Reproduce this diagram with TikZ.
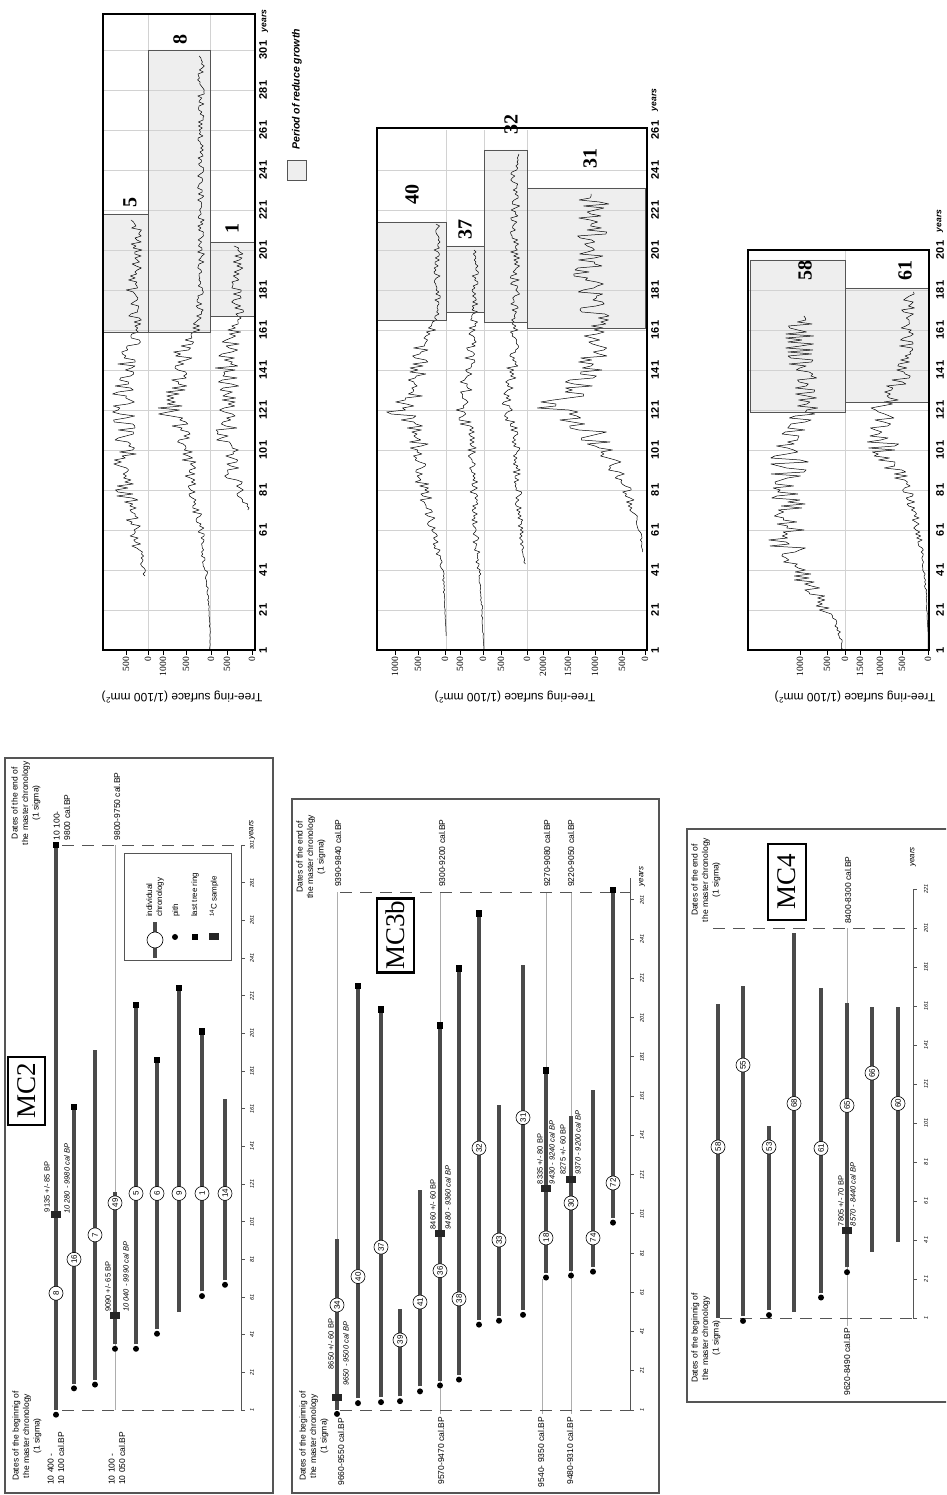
\documentclass[tikz,border=0pt]{standalone}
\usepackage{fontspec}
\setmainfont{Liberation Sans}
\newfontfamily\timesfont{Liberation Serif}

\definecolor{barcol}{HTML}{4A4A4A}
\definecolor{panelcol}{HTML}{555555}
\definecolor{gridcol}{HTML}{D2D2D2}
\definecolor{linkcol}{HTML}{ADADAD}
\definecolor{shadecol}{HTML}{EEEEEE}

\tikzset{
  rot/.style={rotate=90, inner sep=0pt},
  mcframe/.style={draw=panelcol, line width=1.2pt},
  mcbar/.style={draw=barcol, line width=4pt},
  mcdash/.style={draw=panelcol, line width=0.9pt, dash pattern=on 12pt off 8pt},
  mclink/.style={draw=linkcol, line width=0.7pt},
  mcaxis/.style={draw=panelcol, line width=0.8pt},
  mctick/.style={rot, font=\fontsize{5.5}{6}\selectfont\itshape},
  mcyears/.style={rot, font=\fontsize{8}{8}\selectfont\itshape},
  mchead/.style={rot, align=center, font=\fontsize{8.5}{10.5}\selectfont},
  mcdate/.style={rot, align=left, font=\fontsize{8.5}{10.5}\selectfont},
  cdate/.style={rot, anchor=west, font=\fontsize{7.5}{8}\selectfont},
  caldate/.style={cdate, font=\fontsize{7.5}{8}\selectfont\itshape},
  idcirc/.style={circle, draw, fill=white, line width=0.6pt, inner sep=0pt, minimum size=14pt, rotate=90, font=\fontsize{8}{8}\selectfont},
  pith/.style={circle, fill=black, inner sep=0pt, minimum size=6pt},
  lastring/.style={rectangle, fill=black, inner sep=0pt, minimum size=6.5pt},
  csample/.style={rectangle, fill=black!85, inner sep=0pt, minimum width=7pt, minimum height=10pt, rotate=90},
  mcname/.style={draw, line width=2.5pt, fill=white, rotate=90, inner sep=0pt, font=\timesfont\fontsize{27}{27}\selectfont},
  legtext/.style={rot, anchor=west, align=left, font=\fontsize{8}{10}\selectfont},
  chframe/.style={draw=black, line width=2pt},
  chtickmark/.style={draw=black, line width=0.8pt},
  chgrid/.style={draw=gridcol, line width=0.6pt},
  chshade/.style={fill=shadecol},
  choutline/.style={draw=panelcol, line width=0.7pt},
  ringline/.style={draw=black, line width=0.5pt, line join=round},
  chyear/.style={rot, font=\fontsize{11}{11}\selectfont\bfseries},
  chyears/.style={rot, font=\fontsize{8.5}{9}\selectfont\bfseries\itshape},
  chval/.style={rot, anchor=east, font=\timesfont\fontsize{9.5}{10}\selectfont},
  chtitle/.style={rotate=180, inner sep=0pt, font=\fontsize{12}{12}\selectfont},
  chid/.style={rot, font=\timesfont\fontsize{20}{20}\selectfont\bfseries},
}

% tree-ring curve: baseline, first year, last year, trend every 10 years, noise
\newcommand{\ringcurve}[5]{%
  \draw[ringline] plot[samples at={#2,...,#3}]
    (\x,{-#1+((1-frac(\x/10))*array({#4},int(\x/10))+frac(\x/10)*array({#4},int(\x/10+1)))*(1+#5*rand)});%
}

\begin{document}
\begin{tikzpicture}[x=1pt, y=1pt]
  \useasboundingbox (0,0) rectangle (946,1495);
  \clip (0,0) rectangle (946,1495);
  \pgfmathsetseed{4321}
  \begin{scope}[rotate=90]

  % MC2 panel
  \draw[mcframe] (2,-5) rectangle (737,-273);
  \begin{scope}[shift={(83.12,0)}, x=1.883pt]
    \draw[mclink] (1,-115) -- (301,-115);
    \draw[mcdash] (1,-62) -- (1,-241) (301,-62) -- (301,-241);
    \draw[mcaxis] (1,-241) -- (301,-241);
    \foreach \t in {1,21,...,301} {
      \draw[mcaxis] (\t,-241) -- (\t,-245);
      \node[mctick] (mcii-t\t) at (\t,-252) {\t};
    }
    \node[mcyears] (mcii-years) at (309,-252) {years};
    % Bars
    \foreach \xb/\s/\e in {56/1/301, 74/15/162, 95/17/192, 115/36/117, 136/36/216,
                           157/44/187, 179/53/225, 202/64/202, 225/70/166}
      \draw[mcbar] (\s,-\xb) -- (\e,-\xb);
    \foreach \xb/\d in {56/-1.5, 74/12.5, 95/14.5, 115/33.5, 136/33.5, 157/41.5, 202/61.5, 225/67.5}
      \node[pith] (mcii-p\xb) at (\d,-\xb) {};
    \foreach \xb/\e in {56/301, 74/162, 136/216, 157/187, 179/225, 202/202}
      \node[lastring] (mcii-r\xb) at (\e,-\xb) {};
    \foreach \xb/\c in {56/105, 115/51}
      \node[csample] (mcii-c\xb) at (\c,-\xb) {};
    \foreach \id/\xb/\l in {8/56/63, 16/74/81, 7/95/94, 49/115/111, 5/136/116,
                            6/157/116, 9/179/116, 1/202/116, 14/225/116}
      \node[idcirc] (mcii-\id) at (\l,-\xb) {\id};
    % Dates
    \node[cdate] (mcii-bp8) at (106,-47) {9135 +/- 85 BP};
    \node[caldate] (mcii-cal8) at (105,-67) {10 280 - 9980 cal BP};
    \node[cdate] (mcii-bp49) at (53,-108) {9090 +/- 65 BP};
    \node[caldate] (mcii-cal49) at (53,-126) {10 040 - 9990 cal BP};
    \node[mcdate, anchor=west] (mcii-end8) at (303.5,-62) {10 100-\\9800 cal.BP};
    \node[mcdate, anchor=west] (mcii-end49) at (303.5,-117) {9800-9750 cal.BP};
    \node[mcdate, anchor=west] (mcii-beg8) at (-38.8,-56) {10 400 -\\10 100 cal.BP};
    \node[mcdate, anchor=west] (mcii-beg49) at (-38.8,-117) {10 100 -\\10 050 cal.BP};
    \node[mchead] (mcii-end) at (323.3,-26) {Dates of the end of\\the master chronology\\(1 sigma)};
    \node[mchead] (mcii-beg) at (-12.8,-27) {Dates of the beginnig of\\the master chronology\\(1 sigma)};
    \node[mcname, minimum width=68pt, minimum height=37pt] (mcii-name) at (170.4,-26.5) {MC2};
  \end{scope}

  % Legend of the panels
  \draw[mcframe, line width=0.9pt, fill=white] (535,-124) rectangle (642,-231);
  \draw[mcbar] (537,-155) -- (573,-155);
  \node[idcirc, minimum size=16pt] (leg-chrono) at (555,-155) {};
  \node[legtext] (leg-chrono-t) at (578,-155) {individual\\chronology};
  \node[pith] (leg-pith) at (558,-175) {};
  \node[legtext] (leg-pith-t) at (578,-176) {pith};
  \node[lastring] (leg-ring) at (558,-195) {};
  \node[legtext] (leg-ring-t) at (578,-195) {last tree ring};
  \node[csample] (leg-c14) at (558,-214) {};
  \node[legtext] (leg-c14-t) at (578,-214) {\textsuperscript{14}C sample};

  % MC3b panel
  \draw[mcframe] (2,-292) rectangle (696,-659);
  \begin{scope}[shift={(83.04,0)}, x=1.962pt]
    \draw[mclink] (88,-337) -- (265,-337) (-1,-440) -- (265,-440)
                  (-1,-542) -- (68,-542) (174,-546) -- (265,-546) (-1,-571) -- (265,-571);
    \draw[mcdash] (1,-340) -- (1,-630) (265,-340) -- (265,-630);
    \draw[mcaxis] (1,-630) -- (272,-630);
    \foreach \t in {1,21,...,261} {
      \draw[mcaxis] (\t,-630) -- (\t,-634);
      \node[mctick] (mciiib-t\t) at (\t,-642) {\t};
    }
    \node[mcyears] (mciiib-years) at (273,-642) {years};
    % Bars
    \foreach \xb/\s/\e in {337/1/88, 358/7/217, 381/7.5/205, 400/8/52.5, 420/13/113,
                           440/16/197, 459/19/226, 479/47/254, 499/49/156.5, 523/52/228,
                           546/71/174, 571/72/151, 593/74/164, 613/99/266}
      \draw[mcbar] (\s,-\xb) -- (\e,-\xb);
    \foreach \xb/\d in {337/-1, 358/4.5, 381/5, 400/5.5, 420/10.5, 440/13.5, 459/16.5,
                        479/44.5, 499/46.5, 523/49.5, 546/68.5, 571/69.5, 593/71.5, 613/96.5}
      \node[pith] (mciiib-p\xb) at (\d,-\xb) {};
    \foreach \xb/\e in {358/217, 381/205, 440/197, 459/226, 479/254, 546/174, 613/266}
      \node[lastring] (mciiib-r\xb) at (\e,-\xb) {};
    \foreach \xb/\c in {337/7.6, 440/91, 546/114, 571/118.7}
      \node[csample] (mciiib-c\xb) at (\c,-\xb) {};
    \foreach \id/\xb/\l in {34/337/54.5, 40/358/69, 37/381/84, 39/400/36.7, 41/420/56,
                            36/440/72, 38/459/57.6, 32/479/134.5, 33/499/87.6, 31/523/150,
                            18/546/88.7, 30/571/106.5, 74/593/88.7, 72/613/116.7}
      \node[idcirc] (mciiib-\id) at (\l,-\xb) {\id};
    % Dates
    \node[cdate, anchor=east] (mciiib-bp34) at (47.5,-331) {8650 +/- 60 BP};
    \node[caldate, anchor=east] (mciiib-cal34) at (46,-346) {9650 - 9500 cal BP};
    \node[cdate] (mciiib-bp36) at (93,-433) {8460 +/- 60 BP};
    \node[caldate] (mciiib-cal36) at (93,-448) {9480 - 9360 cal BP};
    \node[cdate] (mciiib-bp18) at (116,-540) {8335 +/- 80 BP};
    \node[caldate] (mciiib-cal18) at (116,-552) {9430 - 9240 cal BP};
    \node[cdate] (mciiib-bp30) at (121,-563) {8275 +/- 60 BP};
    \node[caldate] (mciiib-cal30) at (121,-578) {9370 - 9200 cal BP};
    \node[mcdate, anchor=west] (mciiib-end34) at (267.5,-338) {9390-9840 cal.BP};
    \node[mcdate, anchor=west] (mciiib-end36) at (267.5,-442) {9300-9200 cal.BP};
    \node[mcdate, anchor=west] (mciiib-end18) at (267.5,-547) {9270-9080 cal.BP};
    \node[mcdate, anchor=west] (mciiib-end30) at (267.5,-571) {9220-9050 cal.BP};
    \node[mcdate, anchor=east] (mciiib-beg34) at (-3,-341) {9660-9550 cal.BP};
    \node[mcdate, anchor=east] (mciiib-beg36) at (-2.5,-441) {9570-9470 cal.BP};
    \node[mcdate, anchor=east] (mciiib-beg18) at (-2.5,-541) {9540- 9350 cal.BP};
    \node[mcdate, anchor=east] (mciiib-beg30) at (-2.5,-570) {9480-9310 cal.BP};
    \node[mchead] (mciiib-end) at (282.9,-311) {Dates of the end of\\the master chronology\\(1 sigma)};
    \node[mchead] (mciiib-beg) at (-12.3,-314) {Dates of the beginnig of\\the master chronology\\(1 sigma)};
    \node[mcname, minimum width=74pt, minimum height=37pt] (mciiib-name) at (242.9,-395.5) {MC3b};
  \end{scope}

  % MC4 panel
  \draw[mcframe] (93,-687) rectangle (666,-960);
  \begin{scope}[shift={(175.05,0)}, x=1.95pt]
    \draw[mclink] (-3,-847) -- (201,-847);
    \draw[mcdash] (1,-720) -- (1,-913) (201,-713) -- (201,-913);
    \draw[mcaxis] (1,-913) -- (221,-913);
    \foreach \t in {1,21,...,221} {
      \draw[mcaxis] (\t,-913) -- (\t,-917);
      \node[mctick] (mciv-t\t) at (\t,-926) {\t};
    }
    \node[mcyears] (mciv-years) at (237.4,-913) {years};
    % Bars
    \foreach \xb/\s/\e in {718/1/162, 743/2/171, 769/5/99.5, 794/4/198.4, 821/14/170,
                           847/27/162.5, 872/35/160.5, 898/40/160.5}
      \draw[mcbar] (\s,-\xb) -- (\e,-\xb);
    \foreach \xb/\d in {743/-0.5, 769/2.5, 821/11.5, 847/24.5}
      \node[pith] (mciv-p\xb) at (\d,-\xb) {};
    \node[csample] (mciv-c847) at (46,-847) {};
    \foreach \id/\xb/\l in {58/718/88.7, 55/743/130.7, 53/769/88.7, 68/794/111,
                            61/821/88, 65/847/110, 66/872/126.6, 60/898/111}
      \node[idcirc] (mciv-\id) at (\l,-\xb) {\id};
    % Dates
    \node[cdate] (mciv-bp65) at (48,-841) {7805 +/- 70 BP};
    \node[caldate] (mciv-cal65) at (48,-853) {8570 - 8440 cal BP};
    \node[mcdate, anchor=west] (mciv-end65) at (203,-848) {8400-8300 cal.BP};
    \node[mcdate, anchor=east] (mciv-beg65) at (-4,-847) {9620-8490 cal.BP};
    \node[mchead] (mciv-end) at (225.6,-706) {Dates of the end of\\the master chronology\\(1 sigma)};
    \node[mchead] (mciv-beg) at (-9.3,-706) {Dates of the beginnig of\\the master chronology\\(1 sigma)};
    \node[mcname, minimum width=76pt, minimum height=38pt] (mciv-name) at (224.6,-787) {MC4};
  \end{scope}

  % Tree-ring surfaces, MC2
  \begin{scope}[shift={(843,0)}, x=2pt]
    \fill[chshade] (160,-103) rectangle (219,-148) (160,-148) rectangle (301,-210)
                   (168,-210) rectangle (205,-254);
    \foreach \t in {21,41,...,301} \draw[chgrid] (\t,-103) -- (\t,-255);
    \draw[chgrid] (1,-148) -- (319,-148) (1,-210) -- (319,-210);
    \ringcurve{148}{38}{216}{0,0,0,1,4,10,14,16,22,24,22,22,24,26,24,20,10,14,16,12,12,12,12,12}{0.5}
    \ringcurve{211}{1}{298}{1,1,2,3,5,8,10,14,18,22,24,30,42,35,30,28,14,12,10,10,10,10,10,10,10,10,10,10,10,10,9,9,9,9}{0.35}
    \ringcurve{252}{71}{203}{0,0,0,0,0,0,0,3,12,22,24,26,24,22,26,24,18,14,16,14,14,12,12,12}{0.45}
    \draw[choutline] (160,-103) rectangle (219,-148) (160,-148) rectangle (301,-210)
                     (168,-210) rectangle (205,-254);
    \draw[chframe] (1,-103) rectangle (319,-255);
    \foreach \t in {1,21,...,301} \node[chyear] (cha-t\t) at (\t,-263) {\t};
    \node[chyears] (cha-years) at (315.5,-265) {years};
    \foreach \v/\xb [count=\i] in {500/126, 0/148, 1000/163, 500/186, 0/211, 500/227, 0/252} {
      \draw[chtickmark] (1,-\xb) -- (-1.5,-\xb);
      \node[chval] (cha-v\i) at (-2.5,-\xb) {\v};
    }
    \node[chtitle] (cha-title) at (-22.5,-182) {Tree-ring surface (1/100 mm\textsuperscript{2})};
    \node[chid] (cha-5) at (224.5,-130) {5};
    \node[chid] (cha-8) at (306,-180) {8};
    \node[chid] (cha-1) at (211.5,-232) {1};
  \end{scope}

  % Legend of the curves
  \draw[chshade, choutline] (1315,-287) rectangle (1335,-306);
  \node[rot, anchor=west, font=\fontsize{10.5}{11}\selectfont\bfseries\itshape] (leg-shade) at (1345,-297) {Period of reduce growth};

  % Tree-ring surfaces, MC3b
  \begin{scope}[shift={(843,0)}, x=2pt]
    \fill[chshade] (166,-377) rectangle (215,-446) (170,-446) rectangle (203,-484)
                   (165,-484) rectangle (251,-527) (162,-527) rectangle (232,-645);
    \foreach \t in {21,41,...,241} \draw[chgrid] (\t,-377) -- (\t,-647);
    \draw[chgrid] (1,-446) -- (261,-446) (1,-484) -- (261,-484) (1,-527) -- (261,-527);
    \ringcurve{446}{8}{214}{0,0,1,2,3,8,14,18,22,24,26,30,45,30,28,26,16,8,9,9,9,9,9,9}{0.35}
    \ringcurve{484}{1}{201}{0,1,2,3,5,7,9,10,10,10,12,14,22,18,16,14,12,9,9,9,9,9,9}{0.4}
    \ringcurve{527}{44}{249}{0,0,0,0,1,4,6,8,9,10,10,12,20,18,15,14,12,12,12,12,12,12,12,12,12,12,10,10}{0.4}
    \ringcurve{645}{50}{229}{0,0,0,0,0,2,5,12,18,28,40,55,95,70,55,50,48,50,55,55,55,52,52,50,50,50}{0.3}
    \draw[choutline] (166,-377) rectangle (215,-446) (170,-446) rectangle (203,-484)
                     (165,-484) rectangle (251,-527) (162,-527) rectangle (232,-645);
    \draw[chframe] (1,-377) rectangle (262,-647);
    \foreach \t in {1,21,...,261} \node[chyear] (chb-t\t) at (\t,-655) {\t};
    \node[chyears] (chb-years) at (276,-655) {years};
    \foreach \v/\xb [count=\i] in {1000/395, 500/418, 0/445, 500/460, 0/483, 500/501, 0/527,
                                   2000/543, 1500/568, 1000/595, 500/622, 0/645} {
      \draw[chtickmark] (1,-\xb) -- (-1.5,-\xb);
      \node[chval] (chb-v\i) at (-2.5,-\xb) {\v};
    }
    \node[chtitle] (chb-title) at (-22.5,-515) {Tree-ring surface (1/100 mm\textsuperscript{2})};
    \node[chid] (chb-40) at (228.5,-412) {40};
    \node[chid] (chb-37) at (211,-465) {37};
    \node[chid] (chb-32) at (263.5,-511) {32};
    \node[chid] (chb-31) at (246.5,-590) {31};
  \end{scope}

  % Tree-ring surfaces, MC4
  \begin{scope}[shift={(843,0)}, x=2pt]
    \fill[chshade] (120,-750) rectangle (196,-845) (125,-845) rectangle (182,-928);
    \foreach \t in {21,41,...,181} \draw[chgrid] (\t,-748) -- (\t,-929);
    \draw[chgrid] (1,-845) -- (201,-845);
    \ringcurve{845}{1}{168}{2,6,18,30,45,60,55,55,55,55,55,50,40,40,40,45,45,35,35,35,35,35}{0.35}
    \ringcurve{928}{1}{180}{0,0,1,2,4,6,10,14,20,30,45,45,45,35,25,22,22,20,20,20,20}{0.35}
    \draw[choutline] (120,-750) rectangle (196,-845) (125,-845) rectangle (182,-928);
    \draw[chframe] (1,-748) rectangle (201,-929);
    \foreach \t in {1,21,...,201} \node[chyear] (chc-t\t) at (\t,-940) {\t};
    \node[chyears] (chc-years) at (215.5,-940) {years};
    \foreach \v/\xb [count=\i] in {1000/800, 500/827, 0/845, 1500/860, 1000/880, 500/902, 0/928} {
      \draw[chtickmark] (1,-\xb) -- (-1.5,-\xb);
      \node[chval] (chc-v\i) at (-2.5,-\xb) {\v};
    }
    \node[chtitle] (chc-title) at (-22.5,-855) {Tree-ring surface (1/100 mm\textsuperscript{2})};
    \node[chid] (chc-58) at (190.5,-805) {58};
    \node[chid] (chc-61) at (190.5,-905) {61};
  \end{scope}

  \end{scope}
\end{tikzpicture}
\end{document}
